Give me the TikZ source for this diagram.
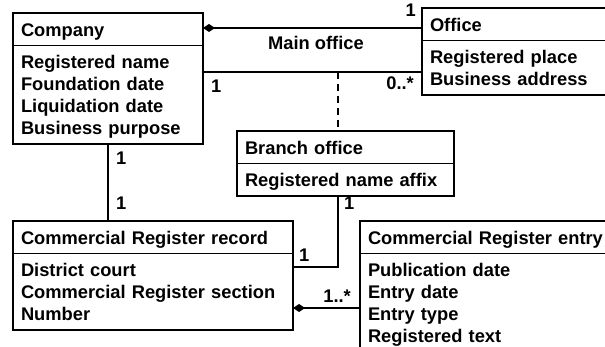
\documentclass[tikz,border=0pt]{standalone}
\usepackage{fontspec}
\setmainfont{Liberation Sans}
\usetikzlibrary{shapes.multipart,arrows.meta}

% one line of a class box, 22pt high
\newcommand{\umlrow}[1]{\rule[-4pt]{0pt}{22pt}#1}

\begin{document}
\begin{tikzpicture}[x=1pt, y=-1pt,
  every node/.style={font=\bfseries\fontsize{18.3}{22}\selectfont},
  umlclass/.style={draw, line width=1.6pt, rectangle split, rectangle split parts=2,
    align=left, inner xsep=8pt, inner ysep=4.5pt, outer sep=0pt, anchor=north west},
  link/.style={line width=1.6pt},
  comp/.style={link, {Diamond[length=12pt,width=8pt]}-},
  mult/.style={inner sep=0pt}]
  \useasboundingbox (0,0) rectangle (605,347);
  \clip (0,0) rectangle (605,347);

  % classes
  \node[umlclass, text width=174pt] (company) at (13,13)
    {\umlrow{Company}
     \nodepart{two}\umlrow{Registered name}\\ \umlrow{Foundation date}\\
     \umlrow{Liquidation date}\\ \umlrow{Business purpose}};
  \node[umlclass, text width=200pt] (office) at (422,8)
    {\umlrow{Office}
     \nodepart{two}\umlrow{Registered place}\\ \umlrow{Business address}};
  \node[umlclass, text width=201pt] (branch) at (237,131)
    {\umlrow{Branch office}
     \nodepart{two}\umlrow{Registered name affix}};
  \node[umlclass, text width=264pt] (record) at (13,221)
    {\umlrow{Commercial Register record}
     \nodepart{two}\umlrow{District court}\\ \umlrow{Commercial Register section}\\
     \umlrow{Number}};
  \node[umlclass, text width=244pt] (entry) at (360,221)
    {\umlrow{Commercial Register entry}
     \nodepart{two}\umlrow{Publication date}\\ \umlrow{Entry date}\\
     \umlrow{Entry type}\\ \umlrow{Registered text}};

  % main office band between company and office
  \coordinate (motop) at ([yshift=-15pt]company.north east);
  \coordinate (mobot) at ([yshift=-59pt]company.north east);
  \draw[comp] (motop) -- (motop -| office.west);
  \draw[link] (mobot) -- (mobot -| office.west);
  \node[anchor=base] (molabel) at (316,50) {Main office};

  % branch office hangs off the band and links to the record
  \coordinate (tap) at (338,72);
  \coordinate (reclink) at ([yshift=-46pt]record.north east);
  \coordinate (recdia) at ([yshift=-87pt]record.north east);
  \draw[link, dash pattern=on 7pt off 5pt] (tap) -- (tap |- branch.north);
  \draw[link] (tap |- branch.south) |- (reclink);
  \draw[link] (company.south) -- (company.south |- record.north);
  \draw[comp] (recdia) -- (recdia -| entry.west);

  % multiplicities
  \node[mult, anchor=base east] (m1) at (416,17) {1};
  \node[mult, anchor=base east] (m2) at (414,90) {0..*};
  \node[mult, anchor=base west] (m3) at (211,93) {1};
  \node[mult, anchor=base west] (m4) at (116,165) {1};
  \node[mult, anchor=base west] (m5) at (116,210) {1};
  \node[mult, anchor=base west] (m6) at (344,210) {1};
  \node[mult, anchor=base west] (m7) at (299,262) {1};
  \node[mult, anchor=base east] (m8) at (351,303) {1..*};
\end{tikzpicture}
\end{document}
